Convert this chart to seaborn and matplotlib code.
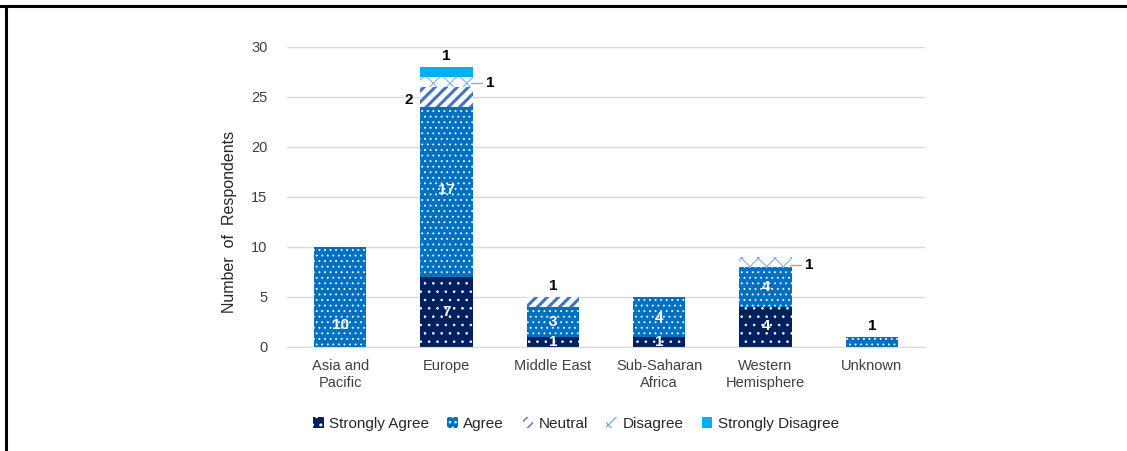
import numpy as np
import pandas as pd
import matplotlib
matplotlib.use("Agg")
import matplotlib.pyplot as plt
import seaborn as sns
from matplotlib.patches import Patch
from matplotlib.lines import Line2D

regions = ["Asia and\nPacific", "Europe", "Middle East", "Sub-Saharan\nAfrica",
           "Western\nHemisphere", "Unknown"]
strongly_agree = [0, 7, 1, 1, 4, 0]
agree = [10, 17, 3, 4, 4, 1]
neutral = [0, 2, 1, 0, 0, 0]
disagree = [0, 1, 0, 0, 1, 0]
strongly_disagree = [0, 1, 0, 0, 0, 0]

series = ["Strongly Agree", "Agree", "Neutral", "Disagree", "Strongly Disagree"]
values = [strongly_agree, agree, neutral, disagree, strongly_disagree]

# face, hatch colour, hatch, hatch width
styles = {
    "Strongly Agree": ("#002060", "#FFFFFF", "..", 0.6),
    "Agree": ("#0070C0", "#FFFFFF", "...", 0.6),
    "Neutral": ("#FFFFFF", "#4472C4", "///", 2.2),
    "Disagree": ("#FFFFFF", "#7FB2E5", "xx", 0.8),
    "Strongly Disagree": ("#00B0F0", "#00B0F0", None, 0.5),
}

sns.set_style("white")
plt.rcParams["font.family"] = ["Liberation Sans", "DejaVu Sans"]


def style_patch(p, name):
    face, hcol, hatch, hw = styles[name]
    p.set_facecolor(face)
    p.set_edgecolor(hcol)
    p.set_linewidth(0)
    if hatch:
        p.set_hatch(hatch)
        if hasattr(p, "set_hatch_linewidth"):
            p.set_hatch_linewidth(hw)


fig = plt.figure(figsize=(11.27, 4.51), dpi=100)
ax = fig.add_axes([0.2547, 0.2306, 0.5661, 0.6652])

df = pd.DataFrame({"region": regions})
bottom = np.zeros(len(regions))
for name, vals in zip(series, values):
    df["v"] = vals
    with plt.rc_context({"hatch.linewidth": styles[name][3]}):
        sns.barplot(data=df, x="region", y="v", ax=ax, color=styles[name][0], width=0.49,
                    bottom=bottom, saturation=1, linewidth=0)
        for p in ax.containers[-1]:
            style_patch(p, name)
    bottom = bottom + np.array(vals)

ax.set_xlim(-0.5, 5.5)
ax.set_ylim(0, 30)
ax.set_yticks(range(0, 31, 5))
ax.yaxis.grid(True, color="#D9D9D9", linewidth=1)
ax.set_axisbelow(True)
for s in ["left", "right", "top"]:
    ax.spines[s].set_visible(False)
ax.spines["bottom"].set_color("#D9D9D9")
ax.tick_params(axis="both", length=0, labelsize=10.5, colors="#404040")
ax.tick_params(axis="y", pad=14)
ax.tick_params(axis="x", pad=9)
ax.set_xlabel("")
ax.set_ylabel("Number  of  Respondents", fontsize=11.5, color="#262626")
ax.yaxis.set_label_coords(-0.079, 0.417)

# labels inside bars
inside = [(0, 2.2, "10"), (1, 3.5, "7"), (1, 15.7, "17"), (2, 0.5, "1"), (2, 2.5, "3"),
          (3, 0.5, "1"), (3, 2.9, "4"), (4, 2.1, "4"), (4, 6, "4")]
for x, y, t in inside:
    ax.text(x, y, t, ha="center", va="center", color="white", fontsize=11, fontweight="bold")

# labels outside
bold = dict(fontsize=11, fontweight="bold", color="black")
ax.text(1, 28.4, "1", ha="center", va="bottom", **bold)
ax.text(0.68, 24.7, "2", ha="right", va="center", **bold)
ax.text(1.37, 26.4, "1", ha="left", va="center", **bold)
ax.plot([1.23, 1.33], [26.4, 26.4], color="#A6A6A6", linewidth=1)
ax.text(2, 5.4, "1", ha="center", va="bottom", **bold)
ax.text(4.37, 8.2, "1", ha="left", va="center", **bold)
ax.plot([4.23, 4.33], [8.2, 8.2], color="#A6A6A6", linewidth=1)
ax.text(5, 1.4, "1", ha="center", va="bottom", **bold)

handles = []
for name in series:
    face, hcol, hatch, hw = styles[name]
    handles.append(Patch(facecolor=face, edgecolor=hcol, hatch=hatch, linewidth=0, label=name))
fig.legend(handles=handles, loc="center", bbox_to_anchor=(0.511, 0.06), ncol=5,
           frameon=False, fontsize=11, handlelength=0.7, handleheight=0.7,
           handletextpad=0.35, columnspacing=1.2, labelcolor="#262626")

# frame lines (top and left)
fig.add_artist(Line2D([0.0, 1.0], [1 - 6 / 451, 1 - 6 / 451], transform=fig.transFigure,
                      color="black", linewidth=2.2))
fig.add_artist(Line2D([6 / 1127, 6 / 1127], [0.0, 1 - 6 / 451], transform=fig.transFigure,
                      color="black", linewidth=2.2))

fig.savefig("out.png", dpi=100)
